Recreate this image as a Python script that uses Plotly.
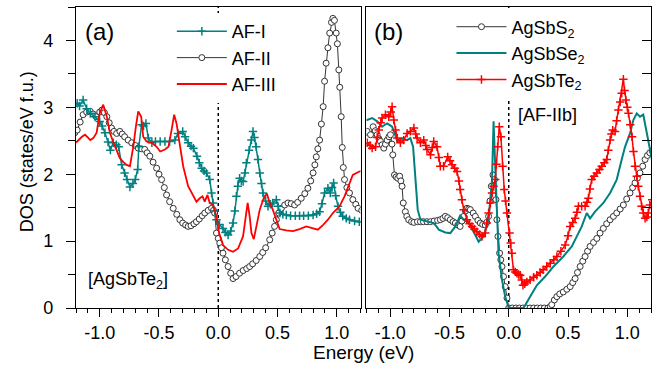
import plotly.graph_objects as go

# ---------------- data ----------------
# Panel (a): AgSbTe2, three AF orderings
afI_E = [-1.21,-1.19,-1.17,-1.14,-1.11,-1.08,-1.04,-1.0,-0.98,-0.956,-0.93,-0.91,-0.886,-0.86,-0.84,-0.815,-0.79,-0.77,-0.745,-0.72,-0.70,-0.68,-0.67,-0.647,-0.63,-0.61,-0.59,-0.56,-0.53,-0.49,-0.45,-0.41,-0.366,-0.34,-0.30,-0.28,-0.254,-0.23,-0.21,-0.18,-0.16,-0.14,-0.12,-0.10,-0.072,-0.057,-0.044,-0.03,-0.015,0.01,0.04,0.06,0.083,0.105,0.125,0.14,0.153,0.165,0.18,0.195,0.21,0.225,0.237,0.26,0.28,0.293,0.305,0.32,0.335,0.35,0.365,0.377,0.40,0.42,0.44,0.46,0.49,0.505,0.52,0.545,0.574,0.61,0.65,0.686,0.72,0.76,0.80,0.83,0.855,0.875,0.897,0.925,0.945,0.96,0.973,0.99,1.01,1.03,1.05,1.08,1.107,1.15,1.19,1.21]
afI_D = [3.05,3.06,3.02,3.11,2.98,2.91,2.86,2.79,2.72,2.62,2.48,2.36,2.47,2.44,2.41,2.14,2.02,1.92,1.81,1.86,1.92,2.07,2.41,2.74,2.72,2.76,2.54,2.47,2.49,2.49,2.49,2.49,2.51,2.61,2.64,2.56,2.47,2.42,2.39,2.27,2.17,2.09,2.05,2.02,1.92,1.72,1.57,1.45,1.32,1.25,1.19,1.13,1.09,1.15,1.27,1.45,1.67,1.82,1.94,1.90,1.89,2.02,2.17,2.36,2.51,2.64,2.55,2.41,2.22,2.02,1.86,1.72,1.60,1.52,1.55,1.57,1.62,1.52,1.42,1.40,1.39,1.38,1.38,1.38,1.38,1.38,1.39,1.41,1.44,1.56,1.72,1.79,1.72,1.80,1.87,1.68,1.52,1.43,1.37,1.34,1.32,1.30,1.29,1.29]

afII_E = [-1.21,-1.19,-1.165,-1.14,-1.11,-1.08,-1.055,-1.03,-1.0,-0.98,-0.96,-0.94,-0.92,-0.90,-0.88,-0.857,-0.83,-0.81,-0.79,-0.76,-0.73,-0.70,-0.675,-0.65,-0.62,-0.60,-0.577,-0.55,-0.52,-0.50,-0.478,-0.455,-0.436,-0.41,-0.38,-0.35,-0.324,-0.30,-0.275,-0.254,-0.23,-0.205,-0.184,-0.16,-0.135,-0.114,-0.085,-0.057,-0.04,-0.03,-0.015,0.0,0.013,0.027,0.04,0.06,0.083,0.105,0.125,0.15,0.18,0.21,0.24,0.265,0.29,0.32,0.35,0.375,0.40,0.434,0.455,0.475,0.49,0.51,0.532,0.56,0.588,0.615,0.644,0.67,0.70,0.73,0.756,0.78,0.80,0.815,0.827,0.84,0.855,0.87,0.885,0.897,0.91,0.925,0.94,0.955,0.967,0.98,0.995,1.005,1.017,1.025,1.037,1.046,1.055,1.065,1.085,1.107,1.135,1.16,1.18,1.21]
afII_D = [2.62,2.66,2.78,2.89,2.93,2.94,2.90,2.86,2.93,2.96,2.92,2.86,2.77,2.69,2.64,2.61,2.64,2.60,2.56,2.51,2.47,2.43,2.39,2.38,2.37,2.32,2.27,2.18,2.09,2.00,1.92,1.80,1.69,1.59,1.49,1.40,1.32,1.27,1.24,1.22,1.23,1.26,1.29,1.33,1.38,1.42,1.46,1.49,1.46,1.42,1.12,1.04,0.97,0.90,0.82,0.72,0.62,0.52,0.44,0.47,0.52,0.56,0.59,0.62,0.66,0.71,0.77,0.83,0.90,1.02,1.12,1.22,1.32,1.42,1.49,1.54,1.57,1.56,1.54,1.58,1.64,1.71,1.79,1.90,2.02,2.14,2.26,2.38,2.51,2.75,3.01,3.39,3.66,3.89,4.11,4.27,4.33,4.30,4.11,3.95,3.56,3.30,2.86,2.40,2.10,1.92,1.80,1.72,1.62,1.55,1.49,1.46]

afIII_E = [-1.21,-1.19,-1.15,-1.124,-1.10,-1.08,-1.054,-1.026,-1.0,-0.97,-0.94,-0.914,-0.89,-0.87,-0.85,-0.83,-0.80,-0.773,-0.745,-0.73,-0.717,-0.695,-0.675,-0.65,-0.633,-0.605,-0.56,-0.52,-0.49,-0.45,-0.42,-0.394,-0.372,-0.352,-0.324,-0.296,-0.254,-0.212,-0.184,-0.156,-0.133,-0.114,-0.091,-0.072,-0.044,-0.015,0.007,0.04,0.083,0.125,0.167,0.209,0.232,0.248,0.265,0.28,0.30,0.32,0.35,0.383,0.41,0.434,0.46,0.49,0.518,0.574,0.63,0.686,0.743,0.80,0.84,0.883,0.925,0.967,1.023,1.065,1.107,1.135,1.19,1.21]
afIII_D = [2.47,2.49,2.56,2.59,2.55,2.51,2.54,2.62,2.91,3.04,2.86,2.62,2.50,2.41,2.32,2.24,2.18,2.14,2.12,2.25,2.41,2.71,2.94,2.86,2.56,2.49,2.47,2.41,2.34,2.37,2.41,2.66,2.89,2.76,2.41,2.12,1.82,1.67,1.59,1.64,1.67,1.59,1.69,1.57,1.54,1.37,1.12,0.94,0.87,0.84,0.89,1.07,1.42,1.57,1.37,1.12,1.03,1.22,1.47,1.64,1.71,1.57,1.47,1.32,1.18,1.16,1.15,1.18,1.22,1.19,1.17,1.24,1.32,1.42,1.52,1.67,1.87,1.99,2.04,2.05]

# Panel (b): AF-IIb ordering, three compounds
s_E = [-1.21,-1.194,-1.166,-1.144,-1.125,-1.11,-1.095,-1.082,-1.068,-1.054,-1.04,-1.026,-1.01,-0.998,-0.985,-0.978,-0.964,-0.95,-0.936,-0.92,-0.91,-0.90,-0.89,-0.872,-0.86,-0.844,-0.82,-0.80,-0.77,-0.745,-0.72,-0.69,-0.66,-0.63,-0.60,-0.577,-0.555,-0.535,-0.515,-0.493,-0.47,-0.45,-0.43,-0.41,-0.395,-0.38,-0.365,-0.352,-0.338,-0.324,-0.30,-0.282,-0.26,-0.24,-0.22,-0.198,-0.185,-0.17,-0.158,-0.147,-0.133,-0.12,-0.108,-0.10,-0.091,-0.077,-0.067,-0.057,-0.044,-0.03,-0.015,0.0,0.03,0.06,0.09,0.12,0.15,0.18,0.21,0.24,0.27,0.30,0.33,0.35,0.363,0.385,0.406,0.43,0.46,0.49,0.518,0.54,0.56,0.58,0.602,0.624,0.644,0.665,0.686,0.715,0.743,0.77,0.798,0.826,0.855,0.883,0.911,0.94,0.967,0.995,1.023,1.045,1.065,1.085,1.107,1.13,1.15,1.17,1.19,1.21]
s_D = [2.62,2.64,2.59,2.71,2.65,2.59,2.53,2.49,2.44,2.39,2.45,2.51,2.56,2.59,2.45,2.29,1.99,1.96,1.94,1.97,1.90,1.82,1.57,1.44,1.37,1.32,1.29,1.28,1.29,1.29,1.29,1.29,1.29,1.30,1.31,1.32,1.34,1.37,1.35,1.32,1.29,1.27,1.24,1.22,1.30,1.37,1.45,1.49,1.48,1.47,1.42,1.37,1.31,1.27,1.25,1.24,1.28,1.37,1.60,1.82,1.99,1.92,1.62,1.32,1.07,0.82,0.72,0.62,0.47,0.32,0.15,0.0,0.0,0.0,0.0,0.0,0.0,0.0,0.0,0.0,0.0,0.0,0.0,0.02,0.05,0.12,0.17,0.21,0.24,0.28,0.32,0.38,0.44,0.53,0.62,0.70,0.77,0.85,0.92,0.98,1.04,1.12,1.19,1.26,1.32,1.37,1.42,1.48,1.54,1.63,1.72,1.80,1.87,1.94,2.02,2.12,2.22,2.28,2.32,2.35]

se_E = [-1.21,-1.194,-1.152,-1.11,-1.068,-1.045,-1.026,-1.0,-0.984,-0.96,-0.94,-0.92,-0.90,-0.857,-0.83,-0.807,-0.787,-0.768,-0.745,-0.69,-0.633,-0.61,-0.59,-0.535,-0.493,-0.45,-0.41,-0.38,-0.338,-0.296,-0.254,-0.212,-0.17,-0.141,-0.128,-0.114,-0.10,-0.086,-0.057,-0.03,0.0,0.125,0.18,0.237,0.307,0.377,0.46,0.532,0.574,0.616,0.658,0.686,0.728,0.798,0.855,0.911,0.953,0.981,1.023,1.051,1.08,1.107,1.135,1.164,1.186,1.21]
se_D = [2.80,2.81,2.84,2.79,2.71,2.74,2.76,2.73,2.71,2.60,2.49,2.52,2.54,2.51,2.54,2.41,1.92,1.47,1.32,1.29,1.27,1.22,1.17,1.13,1.12,1.22,1.38,1.32,1.27,1.14,0.99,1.07,1.32,1.92,2.79,2.12,1.32,0.82,0.42,0.17,0.0,0.0,0.17,0.34,0.47,0.62,0.77,0.92,1.07,1.22,1.42,1.34,1.44,1.57,1.72,1.92,2.22,2.41,2.61,2.81,2.91,2.86,2.89,2.61,2.37,2.20]

te_E = [-1.21,-1.194,-1.17,-1.152,-1.124,-1.11,-1.096,-1.08,-1.068,-1.04,-1.012,-0.995,-0.984,-0.97,-0.955,-0.94,-0.914,-0.886,-0.857,-0.83,-0.80,-0.785,-0.773,-0.745,-0.717,-0.70,-0.69,-0.66,-0.645,-0.633,-0.605,-0.59,-0.577,-0.55,-0.515,-0.495,-0.478,-0.456,-0.436,-0.42,-0.41,-0.395,-0.38,-0.352,-0.33,-0.31,-0.29,-0.268,-0.245,-0.226,-0.198,-0.185,-0.17,-0.155,-0.141,-0.128,-0.114,-0.104,-0.094,-0.08,-0.066,-0.052,-0.038,-0.027,-0.015,0.007,0.017,0.027,0.04,0.055,0.069,0.083,0.097,0.11,0.12,0.135,0.153,0.18,0.21,0.237,0.265,0.29,0.32,0.35,0.38,0.406,0.44,0.476,0.50,0.518,0.54,0.56,0.575,0.588,0.615,0.644,0.66,0.672,0.685,0.70,0.72,0.743,0.765,0.785,0.806,0.827,0.84,0.855,0.866,0.877,0.897,0.91,0.925,0.94,0.953,0.967,0.977,0.987,1.0,1.01,1.025,1.04,1.052,1.065,1.08,1.093,1.107,1.12,1.135,1.15,1.165,1.177,1.19,1.21]
te_D = [2.45,2.47,2.43,2.39,2.41,2.55,2.66,2.77,2.84,2.89,2.86,2.93,3.01,2.81,2.66,2.54,2.47,2.51,2.61,2.64,2.69,2.60,2.54,2.47,2.51,2.43,2.37,2.29,2.40,2.49,2.41,2.25,2.12,2.12,2.26,2.20,2.14,2.09,2.04,1.90,1.77,1.62,1.47,1.32,1.26,1.22,1.18,1.14,1.10,1.07,1.12,1.27,1.42,1.57,1.72,1.82,1.92,2.15,2.41,2.71,2.56,2.12,1.77,1.60,1.42,1.12,0.97,0.82,0.57,0.54,0.52,0.50,0.49,0.42,0.34,0.36,0.39,0.42,0.46,0.49,0.53,0.57,0.62,0.67,0.72,0.77,0.85,0.94,1.08,1.22,1.28,1.34,1.43,1.52,1.52,1.52,1.58,1.64,1.78,1.92,1.97,2.02,2.07,2.12,2.17,2.22,2.36,2.51,2.60,2.66,2.64,2.80,2.96,3.08,3.21,3.42,3.25,3.11,3.00,2.91,2.74,2.56,2.34,2.12,1.97,1.82,1.67,1.52,1.42,1.34,1.36,1.42,1.54,1.62]

x_tickvals = [-1.0, -0.5, 0.0, 0.5, 1.0]
x_ticktext = ["-1.0", "-0.5", "0.0", "0.5", "1.0"]
y_tickvals = [0, 1, 2, 3, 4]
y_ticktext = ["0", "1", "2", "3", "4"]

# ---------------- styling ----------------
TEAL = "#008080"
RED = "#ff0000"
DARK = "#333333"
FONT = "Liberation Sans, Arial, Helvetica, sans-serif"

fig = go.Figure()

# panel (a)
fig.add_trace(go.Scatter(x=afII_E, y=afII_D, name="AF-II", mode="lines+markers",
                         line=dict(color="black", width=0.8),
                         marker=dict(symbol="circle", size=6, color="white",
                                     line=dict(color=DARK, width=1)),
                         xaxis="x", yaxis="y", legend="legend", legendrank=2))
fig.add_trace(go.Scatter(x=afI_E, y=afI_D, name="AF-I", mode="lines+markers",
                         line=dict(color=TEAL, width=1.5),
                         marker=dict(symbol="cross-thin", size=6, color=TEAL,
                                     line=dict(color=TEAL, width=1.5)),
                         xaxis="x", yaxis="y", legend="legend", legendrank=1))
fig.add_trace(go.Scatter(x=afIII_E, y=afIII_D, name="AF-III", mode="lines",
                         line=dict(color=RED, width=1.8),
                         xaxis="x", yaxis="y", legend="legend", legendrank=3))

# panel (b)
fig.add_trace(go.Scatter(x=s_E, y=s_D, name="AgSbS<sub>2</sub>", mode="lines+markers",
                         line=dict(color="black", width=0.8),
                         marker=dict(symbol="circle", size=6, color="white",
                                     line=dict(color=DARK, width=1)),
                         xaxis="x2", yaxis="y2", legend="legend2"))
fig.add_trace(go.Scatter(x=se_E, y=se_D, name="AgSbSe<sub>2</sub>", mode="lines",
                         line=dict(color=TEAL, width=2),
                         xaxis="x2", yaxis="y2", legend="legend2"))
fig.add_trace(go.Scatter(x=te_E, y=te_D, name="AgSbTe<sub>2</sub>", mode="lines+markers",
                         line=dict(color=RED, width=1.5),
                         marker=dict(symbol="cross-thin", size=6, color=RED,
                                     line=dict(color=RED, width=1.5)),
                         xaxis="x2", yaxis="y2", legend="legend2"))

xcommon = dict(range=[-1.2, 1.2], tickvals=x_tickvals, ticktext=x_ticktext,
               ticks="outside", ticklen=8, tickwidth=1.2, tickcolor="black",
               minor=dict(tick0=0, dtick=0.1, ticks="outside", ticklen=4,
                          tickwidth=1, tickcolor="black"),
               showline=True, linecolor="black", linewidth=1.3, mirror=True,
               showgrid=False, zeroline=False,
               tickfont=dict(family=FONT, size=18, color="black"))

fig.update_layout(
    width=656, height=369,
    margin=dict(l=76, r=5, t=7, b=61),
    paper_bgcolor="white", plot_bgcolor="white",
    font=dict(family=FONT, size=18, color="black"),
    xaxis=dict(domain=[0, 0.4948], anchor="y", **xcommon),
    xaxis2=dict(domain=[0.5052, 1], anchor="y2", **xcommon),
    yaxis=dict(domain=[0, 1], anchor="x", range=[0, 4.5],
               tickvals=y_tickvals, ticktext=y_ticktext,
               ticks="outside", ticklen=9, tickwidth=1.2, tickcolor="black",
               minor=dict(tick0=0, dtick=0.5, ticks="outside", ticklen=7,
                          tickwidth=1, tickcolor="black"),
               showline=True, linecolor="black", linewidth=1.3, mirror=True,
               showgrid=False, zeroline=False, ticklabelstandoff=9,
               tickfont=dict(family=FONT, size=18, color="black")),
    yaxis2=dict(domain=[0, 1], anchor="x2", range=[0, 4.5], side="right",
                dtick=0.5, tick0=0, ticks="inside", ticklen=9, tickwidth=1.2,
                tickcolor="black", showticklabels=False,
                showline=True, linecolor="black", linewidth=1.3, mirror=True,
                showgrid=False, zeroline=False),
    legend=dict(x=0.1667, y=0.98, xanchor="left", yanchor="top", itemwidth=50,
                bgcolor="white", borderwidth=0, tracegroupgap=0,
                font=dict(family=FONT, size=18, color="black")),
    legend2=dict(x=0.653, y=0.995, xanchor="left", yanchor="top", itemwidth=50,
                 bgcolor="white", borderwidth=0, tracegroupgap=0,
                 font=dict(family=FONT, size=18, color="black")),
    showlegend=True,
)

for xr in ["x", "x2"]:
    fig.add_shape(type="line", xref=xr, yref="y domain" if xr == "x" else "y2 domain",
                  x0=0, x1=0, y0=0, y1=1, layer="below",
                  line=dict(color="black", width=1.5, dash="dot"))

ann = [
    dict(text="(a)", x=0.0417, y=0.917, font=dict(size=24)),
    dict(text="(b)", x=0.544, y=0.917, font=dict(size=24)),
    dict(text="[AgSbTe<sub>2</sub>]", x=0.0174, y=0.093, xanchor="left", font=dict(size=18)),
    dict(text="[AF-IIb]", x=0.820, y=0.641, font=dict(size=18)),
    dict(text="Energy (eV)", x=0.5, y=-0.148, font=dict(size=19)),
    dict(text="DOS (states/eV f.u.)", x=-0.085, y=0.518, textangle=-90, font=dict(size=18)),
]
for a in ann:
    base = dict(xref="paper", yref="paper", showarrow=False, xanchor="center", yanchor="middle")
    base.update(a)
    base["font"] = dict(family=FONT, color="black", **a["font"])
    fig.add_annotation(**base)

# remove the default 8px body margin so the figure sits at the window's corner
fig.write_html("out.html", config={"displayModeBar": False},
               post_script="document.body.style.margin='0px';")
